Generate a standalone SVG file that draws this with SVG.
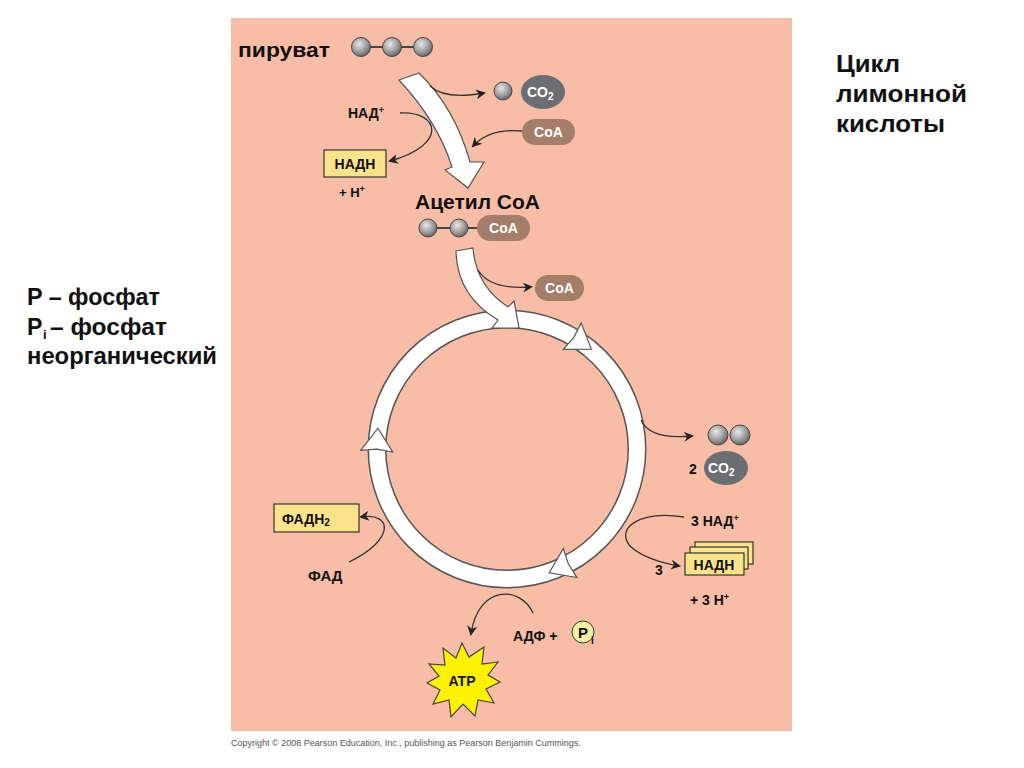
<svg xmlns="http://www.w3.org/2000/svg" width="1024" height="768" viewBox="0 0 1024 768">
<defs>
<radialGradient id="ball" cx="0.4" cy="0.35" r="0.7">
<stop offset="0" stop-color="#e8e8e8"/><stop offset="0.6" stop-color="#9a9a9a"/><stop offset="1" stop-color="#5c5c5c"/>
</radialGradient>
<marker id="ah" viewBox="0 0 10 10" refX="8" refY="5" markerWidth="10" markerHeight="10" orient="auto" markerUnits="userSpaceOnUse">
<path d="M0,0 L10,5 L0,10 L3,5 Z" fill="#222"/>
</marker>
<polygon id="head" points="-9,-16 14,0 -9,16 -7,0"/>
</defs>
<style>
.t{font-family:"Liberation Sans",Arial,sans-serif;font-weight:bold;fill:#111}
.w{font-family:"Liberation Sans",Arial,sans-serif;font-weight:bold;fill:#fff}
.ball{fill:url(#ball);stroke:#444;stroke-width:1}
.bond{stroke:#444;stroke-width:2}
.pill{fill:#a57e69}
.co2{fill:#6d6e71}
.box{fill:#fbe38c;stroke:#333;stroke-width:1.2}
.thin{fill:none;stroke:#333;stroke-width:1.3;marker-end:url(#ah)}
.big{fill:#fff;stroke:#555;stroke-width:1.2;stroke-linejoin:miter}
</style>
<rect x="231" y="18" width="561" height="713" fill="#f8bda6"/>

<g id="cycle">
<circle cx="507" cy="449" r="130" fill="none" stroke="#555" stroke-width="19"/>
<circle cx="507" cy="449" r="130" fill="none" stroke="#fff" stroke-width="16"/>
<use href="#head" class="big" transform="rotate(34 507 449) translate(507 319)"/>
<use href="#head" class="big" transform="rotate(155 507 449) translate(507 319)"/>
<use href="#head" class="big" transform="rotate(273 507 449) translate(507 319)"/>
</g>

<g id="connectors">
<path class="big" d="M 399 80 L 419 73 Q 455 108 470 162 L 484 162 L 468 188 L 445 170 L 452 167 Q 438 122 399 80 Z"/>
<path class="big" d="M 456 251 L 473 248 Q 476 286 508 307 L 514 301 L 519 328 L 492 328 L 498 320 Q 457 296 456 251 Z"/>
<path class="thin" d="M 430 86 Q 445 100 484 93"/>
<path class="thin" d="M 400 113 C 440 111 448 145 390 161"/>
<path class="thin" d="M 522 131 Q 490 128 473 146"/>
<path class="thin" d="M 478 270 Q 490 290 531 287"/>
<path class="thin" d="M 641 420 Q 650 440 692 436"/>
<path class="thin" d="M 684 517 C 640 510 615 528 630 546 Q 645 560 679 566"/>
<path class="thin" d="M 349 562 C 395 540 393 512 361 517"/>
<path class="thin" d="M 533 613 C 520 585 478 585 471 634"/>
</g>

<g id="pyruvate">
<text class="t" x="238" y="57" font-size="21" textLength="92" lengthAdjust="spacingAndGlyphs">пируват</text>
<line class="bond" x1="361" y1="47" x2="423" y2="47"/>
<circle class="ball" cx="361" cy="47" r="9.5"/>
<circle class="ball" cx="392" cy="47" r="9.5"/>
<circle class="ball" cx="423" cy="47" r="9.5"/>
</g>

<g id="co2-1">
<circle class="ball" cx="503" cy="91" r="9"/>
<ellipse class="co2" cx="543" cy="92" rx="22" ry="17"/>
<text class="w" x="527" y="97" font-size="14">CO<tspan font-size="10" dy="3">2</tspan></text>
</g>

<g id="coa-1">
<rect class="pill" x="522" y="119" width="53" height="26" rx="13"/>
<text class="w" x="548.5" y="137" font-size="14" text-anchor="middle">CoA</text>
</g>

<g id="nad-1">
<text class="t" x="348" y="118" font-size="14">НАД<tspan font-size="9" dy="-5">+</tspan></text>
</g>

<g id="nadh-1">
<rect class="box" x="324" y="150" width="62" height="27"/>
<text class="t" x="355" y="169" font-size="14" text-anchor="middle">НАДН</text>
<text class="t" x="339" y="197" font-size="13">+ H<tspan font-size="9" dy="-5">+</tspan></text>
</g>

<g id="acetyl-coa">
<text class="t" x="415" y="209" font-size="20" textLength="125" lengthAdjust="spacingAndGlyphs">Ацетил СоА</text>
<line class="bond" x1="428" y1="228" x2="480" y2="228"/>
<circle class="ball" cx="428" cy="228" r="9"/>
<circle class="ball" cx="459" cy="228" r="9"/>
<rect class="pill" x="477" y="215" width="53" height="26" rx="13"/>
<text class="w" x="503.5" y="233" font-size="14" text-anchor="middle">CoA</text>
</g>

<g id="coa-2">
<rect class="pill" x="535" y="275" width="49" height="26" rx="13"/>
<text class="w" x="559.5" y="293" font-size="14" text-anchor="middle">CoA</text>
</g>

<g id="co2-2">
<circle class="ball" cx="718" cy="435" r="10"/>
<circle class="ball" cx="740" cy="435" r="10"/>
<text class="t" x="689" y="474" font-size="14">2</text>
<ellipse class="co2" cx="726" cy="468" rx="22" ry="17"/>
<text class="w" x="708" y="473" font-size="14">CO<tspan font-size="10" dy="3">2</tspan></text>
</g>

<g id="nad-3">
<text class="t" x="691" y="526" font-size="14">3 НАД<tspan font-size="9" dy="-5">+</tspan></text>
</g>

<g id="nadh-3">
<text class="t" x="655" y="575" font-size="14">3</text>
<rect class="box" x="695" y="542" width="58" height="22"/>
<rect class="box" x="690" y="547" width="58" height="22"/>
<rect class="box" x="685" y="553" width="59" height="22"/>
<text class="t" x="714" y="570" font-size="14" text-anchor="middle">НАДН</text>
<text class="t" x="690" y="605" font-size="14">+ 3 H<tspan font-size="9" dy="-5">+</tspan></text>
</g>

<g id="fadh2">
<rect class="box" x="274" y="504" width="85" height="28"/>
<text class="t" x="282" y="524" font-size="14">ФАДН<tspan font-size="10" dy="2">2</tspan></text>
</g>

<g id="fad">
<text class="t" x="308" y="581" font-size="15">ФАД</text>
</g>

<g id="adp">
<text class="t" x="513" y="641" font-size="14">АДФ +</text>
<circle cx="583" cy="632" r="11" fill="#f3f0a6" stroke="#333" stroke-width="1"/>
<text class="t" x="583" y="638" font-size="15" text-anchor="middle">P</text>
<text class="t" x="591" y="644" font-size="10">i</text>
</g>

<g id="atp">
<polygon points="462,643 469,657 484,647 482,664 498,662 488,675 500,682 486,689 494,703 478,700 475,716 463,704 451,717 449,700 433,704 440,690 427,683 439,676 429,664 445,665 443,648 456,658" fill="#fff200" stroke="#444" stroke-width="1.2"/>
<text class="t" x="462" y="686" font-size="14" text-anchor="middle">ATP</text>
</g>

<g id="legend">
<text class="t" x="27" y="305" font-size="23" textLength="133" lengthAdjust="spacingAndGlyphs">P – фосфат</text>
<text class="t" x="27" y="335" font-size="23">P</text>
<text class="t" x="43" y="339" font-size="13">i</text>
<text class="t" x="50" y="335" font-size="23" textLength="117" lengthAdjust="spacingAndGlyphs">– фосфат</text>
<text class="t" x="27" y="364" font-size="23" textLength="190" lengthAdjust="spacingAndGlyphs">неорганический</text>
</g>

<g id="title">
<text class="t" x="836" y="72" font-size="23" textLength="64" lengthAdjust="spacingAndGlyphs">Цикл</text>
<text class="t" x="836" y="102" font-size="23" textLength="131" lengthAdjust="spacingAndGlyphs">лимонной</text>
<text class="t" x="836" y="132" font-size="23" textLength="109" lengthAdjust="spacingAndGlyphs">кислоты</text>
</g>

<text x="231" y="746" font-family="Liberation Sans,Arial,sans-serif" font-size="9" fill="#555">Copyright © 2008 Pearson Education, Inc., publishing as Pearson Benjamin Cummings.</text>
</svg>
